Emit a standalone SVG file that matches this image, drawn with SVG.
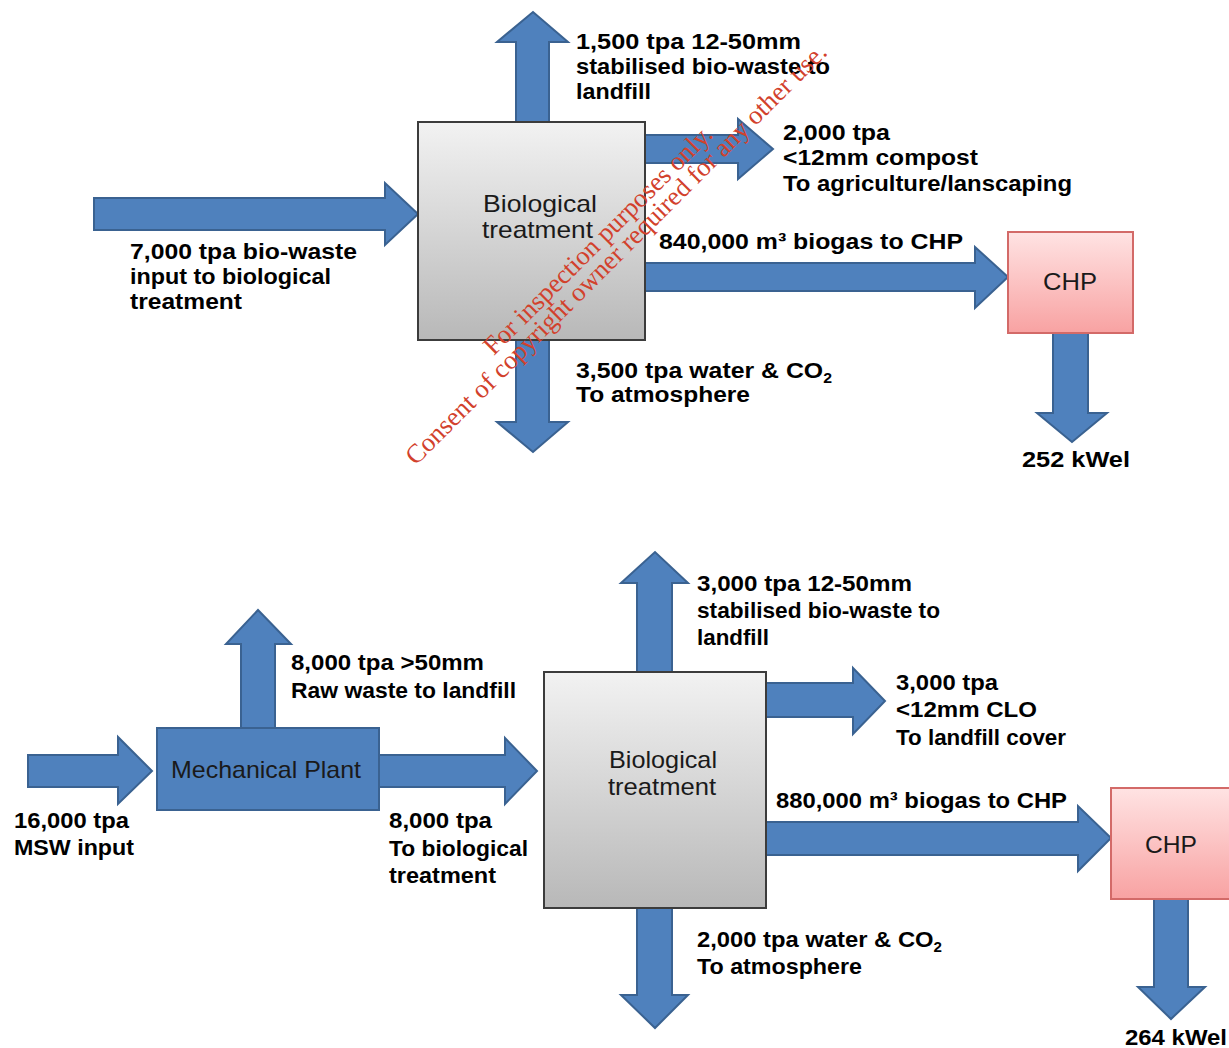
<svg xmlns="http://www.w3.org/2000/svg" width="1229" height="1048" viewBox="0 0 1229 1048">
<defs>
<linearGradient id="gGray" x1="0" y1="0" x2="0" y2="1"><stop offset="0" stop-color="#f2f2f2"/><stop offset="1" stop-color="#b8b8b8"/></linearGradient>
<linearGradient id="gPink" x1="0" y1="0" x2="0" y2="1"><stop offset="0" stop-color="#ffe3e3"/><stop offset="1" stop-color="#f8a2a2"/></linearGradient>
</defs>
<style>
.arr{fill:#4f81bd;stroke:#3a6291;stroke-width:2;stroke-linejoin:miter}
.bio{fill:url(#gGray);stroke:#3c3c3c;stroke-width:2}
.chp{fill:url(#gPink);stroke:#d36a68;stroke-width:2}
.mech{fill:#4f81bd;stroke:#3a6291;stroke-width:2}
.lbl{font-family:"Liberation Sans",Arial,sans-serif;font-weight:bold;font-size:22px;fill:#000}
.box{font-family:"Liberation Sans",Arial,sans-serif;font-size:24px;fill:#1a1a1a}
.wm{font-family:"Liberation Serif","Times New Roman",serif;font-size:26.5px;fill:#d2412c;text-anchor:middle}
</style>
<rect width="1229" height="1048" fill="#ffffff"/>
<g id="connectors">
<polygon class="arr" points="516,123 516,42 497,42 533,12 568,42 549,42 549,123"/>
<polygon class="arr" points="645,135 738,135 738,119 773,149 738,179 738,163 645,163"/>
<polygon class="arr" points="94,198 385,198 385,183 418,214 385,245 385,230 94,230"/>
<polygon class="arr" points="645,263 975,263 975,247 1008,277 975,308 975,291 645,291"/>
<polygon class="arr" points="516,340 516,422 497,422 533,452 568,422 549,422 549,340"/>
<polygon class="arr" points="1053,333 1053,413 1037,413 1072,442 1107,413 1088,413 1088,333"/>
<polygon class="arr" points="28,755 118,755 118,737 152,771 118,804 118,787 28,787"/>
<polygon class="arr" points="241,728 241,644 226,644 258,610 291,644 275,644 275,728"/>
<polygon class="arr" points="379,755 505,755 505,738 537,771 505,804 505,787 379,787"/>
<polygon class="arr" points="637,672 637,583 621,583 655,552 688,583 672,583 672,672"/>
<polygon class="arr" points="766,683 853,683 853,668 885,701 853,734 853,717 766,717"/>
<polygon class="arr" points="766,822 1078,822 1078,806 1111,838 1078,871 1078,855 766,855"/>
<polygon class="arr" points="637,908 637,995 621,995 655,1028 688,995 672,995 672,908"/>
<polygon class="arr" points="1154,899 1154,987 1138,987 1171,1019 1205,987 1188,987 1188,899"/>
</g>
<g id="bio1"><rect class="bio" x="418" y="122" width="227" height="218"/>
<text class="box" x="483" y="212" textLength="114" lengthAdjust="spacingAndGlyphs">Biological</text>
<text class="box" x="482" y="238" textLength="111" lengthAdjust="spacingAndGlyphs">treatment</text></g>
<g id="chp1"><rect class="chp" x="1008" y="232" width="125" height="101"/>
<text class="box" x="1043" y="290" textLength="54" lengthAdjust="spacingAndGlyphs">CHP</text></g>
<g id="mech"><rect class="mech" x="157" y="728" width="222" height="82"/>
<text class="box" x="171" y="778" font-size="22" fill="#111" textLength="190" lengthAdjust="spacingAndGlyphs">Mechanical Plant</text></g>
<g id="bio2"><rect class="bio" x="544" y="672" width="222" height="236"/>
<text class="box" x="609" y="768" textLength="108" lengthAdjust="spacingAndGlyphs">Biological</text>
<text class="box" x="608" y="795" textLength="108" lengthAdjust="spacingAndGlyphs">treatment</text></g>
<g id="chp2"><rect class="chp" x="1111" y="788" width="125" height="111"/>
<text class="box" x="1145" y="853" textLength="52" lengthAdjust="spacingAndGlyphs">CHP</text></g>
<g id="labels-top">
<text class="lbl" x="576" y="49" textLength="225" lengthAdjust="spacingAndGlyphs">1,500 tpa 12-50mm</text>
<text class="lbl" x="576" y="74" textLength="254" lengthAdjust="spacingAndGlyphs">stabilised bio-waste to</text>
<text class="lbl" x="576" y="99" textLength="75" lengthAdjust="spacingAndGlyphs">landfill</text>
<text class="lbl" x="783" y="140" textLength="107" lengthAdjust="spacingAndGlyphs">2,000 tpa</text>
<text class="lbl" x="783" y="165" textLength="195" lengthAdjust="spacingAndGlyphs">&lt;12mm compost</text>
<text class="lbl" x="783" y="191" textLength="289" lengthAdjust="spacingAndGlyphs">To agriculture/lanscaping</text>
<text class="lbl" x="130" y="259" textLength="227" lengthAdjust="spacingAndGlyphs">7,000 tpa bio-waste</text>
<text class="lbl" x="130" y="284" textLength="201" lengthAdjust="spacingAndGlyphs">input to biological</text>
<text class="lbl" x="130" y="309" textLength="112" lengthAdjust="spacingAndGlyphs">treatment</text>
<text class="lbl" x="659" y="249" textLength="304" lengthAdjust="spacingAndGlyphs">840,000 m³ biogas to CHP</text>
<text class="lbl" x="576" y="378" textLength="256" lengthAdjust="spacingAndGlyphs">3,500 tpa water &amp; CO<tspan font-size="14" dy="5">2</tspan></text>
<text class="lbl" x="576" y="402" textLength="174" lengthAdjust="spacingAndGlyphs">To atmosphere</text>
<text class="lbl" x="1022" y="467" textLength="108" lengthAdjust="spacingAndGlyphs">252 kWel</text>
</g>
<g id="labels-bottom">
<text class="lbl" x="697" y="591" textLength="215" lengthAdjust="spacingAndGlyphs">3,000 tpa 12-50mm</text>
<text class="lbl" x="697" y="618" textLength="243" lengthAdjust="spacingAndGlyphs">stabilised bio-waste to</text>
<text class="lbl" x="697" y="645" textLength="72" lengthAdjust="spacingAndGlyphs">landfill</text>
<text class="lbl" x="291" y="670" textLength="193" lengthAdjust="spacingAndGlyphs">8,000 tpa &gt;50mm</text>
<text class="lbl" x="291" y="698" textLength="225" lengthAdjust="spacingAndGlyphs">Raw waste to landfill</text>
<text class="lbl" x="896" y="690" textLength="102" lengthAdjust="spacingAndGlyphs">3,000 tpa</text>
<text class="lbl" x="896" y="717" textLength="141" lengthAdjust="spacingAndGlyphs">&lt;12mm CLO</text>
<text class="lbl" x="896" y="745" textLength="170" lengthAdjust="spacingAndGlyphs">To landfill cover</text>
<text class="lbl" x="776" y="808" textLength="291" lengthAdjust="spacingAndGlyphs">880,000 m³ biogas to CHP</text>
<text class="lbl" x="14" y="828" textLength="115" lengthAdjust="spacingAndGlyphs">16,000 tpa</text>
<text class="lbl" x="14" y="855" textLength="120" lengthAdjust="spacingAndGlyphs">MSW input</text>
<text class="lbl" x="389" y="828" textLength="103" lengthAdjust="spacingAndGlyphs">8,000 tpa</text>
<text class="lbl" x="389" y="856" textLength="139" lengthAdjust="spacingAndGlyphs">To biological</text>
<text class="lbl" x="389" y="883" textLength="107" lengthAdjust="spacingAndGlyphs">treatment</text>
<text class="lbl" x="697" y="947" textLength="245" lengthAdjust="spacingAndGlyphs">2,000 tpa water &amp; CO<tspan font-size="14" dy="5">2</tspan></text>
<text class="lbl" x="697" y="974" textLength="165" lengthAdjust="spacingAndGlyphs">To atmosphere</text>
<text class="lbl" x="1125" y="1045" textLength="102" lengthAdjust="spacingAndGlyphs">264 kWel</text>
</g>
<g id="watermark">
<text class="wm" x="604" y="246" transform="rotate(-45 604 246)">For inspection purposes only.</text>
<text class="wm" x="622" y="260" transform="rotate(-45 622 260)">Consent of copyright owner required for any other use.</text>
</g>
</svg>
